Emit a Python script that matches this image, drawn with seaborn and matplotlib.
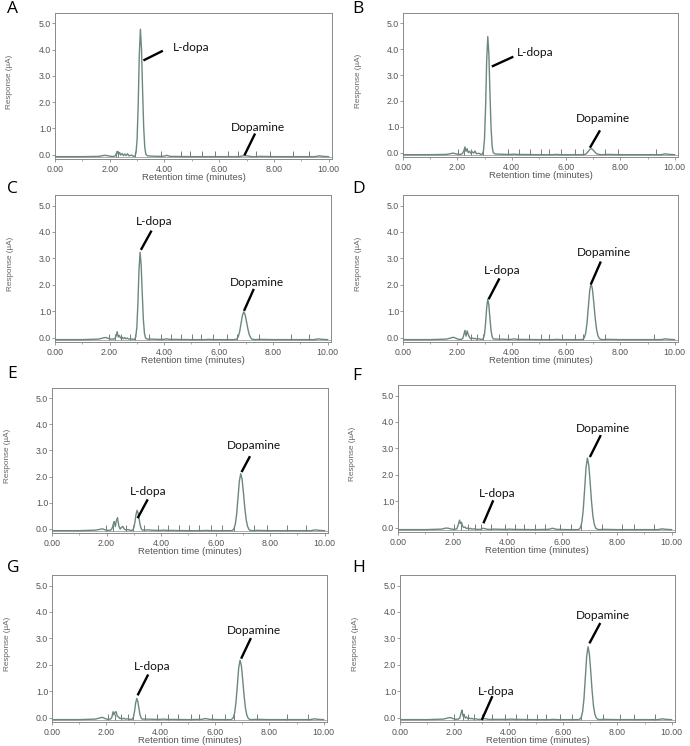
import matplotlib
matplotlib.use("Agg")
import matplotlib.pyplot as plt
import seaborn as sns
from matplotlib import font_manager

# retention time grid (minutes), shared by all eight chromatograms
retention_time = [
    0.0, 1.0, 1.6, 1.75, 1.85, 1.95, 2.05, 2.15, 2.2, 2.25, 2.28, 2.32, 2.36, 2.4, 2.45, 2.5, 2.55, 2.6, 2.65, 2.7, 2.8, 2.87,
    2.92, 2.96, 3.00, 3.04, 3.08, 3.12, 3.16, 3.20, 3.24, 3.28, 3.32, 3.38,
    3.5, 3.8, 4.0, 4.08, 4.2, 5.0, 5.5, 5.65, 5.8, 6.2, 6.5,
    6.57, 6.62, 6.67, 6.72, 6.77, 6.82, 6.87, 6.92, 6.97, 7.02, 7.07, 7.12, 7.17, 7.22, 7.27, 7.35,
    7.5, 8.0, 9.0, 9.5, 9.65, 9.8, 10.0]

# detector response (uA)
response_A = [
    -0.08, -0.08, -0.07, -0.04, -0.03, -0.05, -0.07, -0.07, -0.05, 0.05, 0.12, 0.0, 0.08, -0.02, 0.04, -0.04, 0.02, -0.04, 0.03, -0.05, -0.02, -0.07,
    -0.06, 0.07, 0.58, 1.91, 3.81, 4.78, 4.05, 2.45, 1.04, 0.27, 0.01, -0.05,
    -0.06, -0.07, -0.06, -0.03, -0.07, -0.08, -0.08, -0.08, -0.08, -0.08, -0.08,
    -0.08, -0.08, -0.08, -0.08, -0.07, -0.06, -0.05, -0.04, -0.05, -0.05, -0.06, -0.07, -0.08, -0.08, -0.08, -0.08,
    -0.07, -0.08, -0.08, -0.08, -0.05, -0.07, -0.08]
response_B = [
    -0.08, -0.08, -0.07, -0.04, -0.02, -0.05, -0.07, -0.06, -0.02, 0.10, 0.22, 0.05, 0.15, 0.0, 0.05, -0.03, 0.03, -0.02, 0.06, -0.04, -0.03, -0.07,
    -0.06, 0.06, 0.54, 1.79, 3.58, 4.49, 3.81, 2.30, 0.97, 0.25, 0.0, -0.05,
    -0.06, -0.07, -0.07, -0.06, -0.07, -0.08, -0.08, -0.07, -0.08, -0.08, -0.08,
    -0.08, -0.08, -0.07, -0.06, -0.01, 0.05, 0.12, 0.15, 0.13, 0.07, 0.01, -0.04, -0.06, -0.07, -0.08, -0.08,
    -0.07, -0.08, -0.08, -0.08, -0.05, -0.07, -0.08]
response_C = [
    -0.08, -0.08, -0.06, -0.02, 0.0, -0.03, -0.06, -0.06, -0.03, 0.08, 0.22, 0.02, 0.08, -0.02, 0.02, -0.05, 0.0, -0.05, -0.02, -0.06, -0.05, -0.07,
    -0.07, 0.02, 0.37, 1.28, 2.57, 3.23, 2.73, 1.64, 0.68, 0.16, -0.02, -0.06,
    -0.06, -0.07, -0.07, -0.05, -0.07, -0.08, -0.08, -0.07, -0.08, -0.08, -0.08,
    -0.08, -0.07, -0.05, 0.03, 0.22, 0.52, 0.83, 0.97, 0.87, 0.61, 0.34, 0.12, 0.0, -0.06, -0.07, -0.08,
    -0.07, -0.08, -0.08, -0.08, -0.05, -0.07, -0.08]
response_D = [
    -0.08, -0.08, -0.06, -0.02, 0.01, -0.03, -0.07, -0.07, -0.03, 0.15, 0.27, 0.05, 0.25, 0.12, 0.0, -0.05, -0.02, -0.05, -0.03, -0.06, -0.05, -0.07,
    -0.07, -0.03, 0.13, 0.55, 1.14, 1.45, 1.22, 0.72, 0.27, 0.03, -0.05, -0.06,
    -0.06, -0.07, -0.07, -0.05, -0.07, -0.08, -0.08, -0.07, -0.08, -0.08, -0.08,
    -0.08, -0.07, -0.01, 0.15, 0.53, 1.15, 1.77, 2.05, 1.84, 1.33, 0.76, 0.33, 0.08, -0.03, -0.07, -0.08,
    -0.07, -0.08, -0.08, -0.08, -0.05, -0.07, -0.08]
response_E = [
    -0.08, -0.08, -0.06, -0.03, -0.01, -0.05, -0.07, -0.06, 0.0, 0.18, 0.27, 0.08, 0.30, 0.42, 0.10, -0.02, 0.05, 0.08, -0.02, -0.05, -0.04, -0.07,
    -0.07, -0.06, 0.03, 0.24, 0.54, 0.70, 0.58, 0.33, 0.10, -0.02, -0.06, -0.06,
    -0.05, -0.07, -0.07, -0.06, -0.07, -0.08, -0.08, -0.07, -0.08, -0.08, -0.08,
    -0.08, -0.07, -0.01, 0.16, 0.55, 1.18, 1.83, 2.11, 1.89, 1.37, 0.79, 0.34, 0.09, -0.03, -0.07, -0.08,
    -0.07, -0.08, -0.08, -0.08, -0.05, -0.07, -0.08]
response_F = [
    -0.08, -0.08, -0.06, -0.02, -0.03, -0.06, -0.07, -0.05, 0.10, 0.28, 0.15, 0.20, 0.05, 0.0, 0.02, -0.04, -0.02, -0.05, -0.03, -0.06, -0.05, -0.07,
    -0.07, -0.07, -0.07, -0.06, -0.04, -0.03, -0.04, -0.05, -0.06, -0.07, -0.07, -0.07,
    -0.06, -0.07, -0.07, -0.06, -0.07, -0.08, -0.07, -0.03, -0.07, -0.08, -0.08,
    -0.08, -0.06, 0.0, 0.22, 0.70, 1.48, 2.28, 2.63, 2.36, 1.71, 0.99, 0.44, 0.13, -0.02, -0.06, -0.08,
    -0.07, -0.08, -0.08, -0.08, -0.05, -0.07, -0.08]
response_G = [
    -0.08, -0.08, -0.06, -0.02, 0.01, -0.04, -0.07, -0.06, 0.0, 0.22, 0.10, 0.20, 0.22, 0.05, 0.02, -0.04, -0.02, -0.05, -0.03, -0.06, -0.05, -0.07,
    -0.07, -0.06, 0.03, 0.25, 0.56, 0.72, 0.60, 0.34, 0.10, -0.02, -0.06, -0.06,
    -0.06, -0.07, -0.07, -0.06, -0.07, -0.08, -0.07, -0.04, -0.07, -0.08, -0.08,
    -0.08, -0.06, -0.01, 0.17, 0.57, 1.21, 1.88, 2.17, 1.95, 1.41, 0.81, 0.35, 0.09, -0.03, -0.07, -0.08,
    -0.07, -0.08, -0.08, -0.08, -0.05, -0.07, -0.08]
response_H = [
    -0.08, -0.08, -0.06, -0.02, 0.0, -0.04, -0.07, -0.06, -0.02, 0.18, 0.28, 0.05, 0.12, -0.02, 0.02, -0.05, -0.02, -0.05, -0.03, -0.06, -0.05, -0.07,
    -0.07, -0.07, -0.07, -0.06, -0.05, -0.04, -0.05, -0.06, -0.07, -0.07, -0.07, -0.07,
    -0.07, -0.07, -0.07, -0.06, -0.07, -0.08, -0.08, -0.07, -0.08, -0.08, -0.08,
    -0.08, -0.06, 0.01, 0.22, 0.71, 1.51, 2.32, 2.68, 2.40, 1.74, 1.01, 0.44, 0.13, -0.01, -0.06, -0.08,
    -0.07, -0.08, -0.08, -0.08, -0.05, -0.07, -0.08]

# integration event marks (minutes)
events_A = [2.23, 2.31, 2.94, 3.87, 4.61, 4.95, 5.36, 5.85, 6.31, 6.70, 7.35, 7.87, 8.69, 9.28]
events_B = [2.03, 2.25, 2.51, 2.94, 3.86, 4.28, 4.68, 5.06, 5.37, 5.82, 6.34, 6.64, 7.43, 7.91, 9.31]
events_C = [1.99, 2.20, 2.42, 2.76, 2.94, 3.43, 3.88, 4.25, 4.61, 5.04, 5.37, 5.81, 6.32, 6.66, 7.48, 8.64, 9.31]
events_D = [2.52, 2.74, 2.94, 3.55, 3.85, 4.24, 4.64, 5.07, 5.37, 5.85, 6.33, 6.63, 7.42, 9.25]
events_E = [1.98, 2.23, 2.71, 2.98, 3.38, 3.87, 4.24, 4.64, 5.03, 5.40, 5.82, 6.25, 6.68, 7.41, 7.90, 8.63, 9.30]
events_F = [2.04, 2.31, 2.56, 2.80, 3.02, 3.39, 3.90, 4.26, 4.61, 5.00, 5.36, 5.92, 6.31, 6.68, 7.47, 8.20, 8.63, 9.36]
events_G = [2.05, 2.30, 2.54, 2.79, 2.97, 3.42, 3.88, 4.27, 4.65, 5.10, 5.41, 5.90, 6.38, 6.69, 7.54, 8.64, 9.43]
events_H = [2.00, 2.31, 2.51, 2.73, 3.00, 3.40, 3.87, 4.28, 4.69, 5.05, 5.39, 5.88, 6.33, 6.66, 7.47, 8.10, 8.61, 9.38]

panel_names = ["A", "B", "C", "D", "E", "F", "G", "H"]
responses = [response_A, response_B, response_C, response_D, response_E, response_F, response_G, response_H]
events = [events_A, events_B, events_C, events_D, events_E, events_F, events_G, events_H]
x_ticks = [0, 2, 4, 6, 8, 10]
y_ticks = [0, 1, 2, 3, 4, 5]

# --- layout (pixels in a 690x746 figure) ---
W, H = 690, 746
axes_px = {  # left, right, top, bottom
    "A": (55, 332, 13, 159), "B": (403, 678, 13, 157),
    "C": (55, 331, 195, 342), "D": (403, 678, 195, 342),
    "E": (52, 328, 388, 533), "F": (398, 675, 385, 532),
    "G": (52, 327, 575, 722), "H": (400, 675, 575, 722),
}
letter_px = {"A": (7, 1), "B": (352, 1), "C": (7, 181), "D": (352, 181),
             "E": (7, 366), "F": (352, 368), "G": (7, 560), "H": (352, 560)}
# label callouts: (line tip, line end, text centre) in data coords
callouts = {
    "A": [("L-dopa", (3.23, 3.59), (3.94, 3.96), (4.96, 4.09)), ("Dopamine", (6.92, -0.03), (7.31, 0.80), (7.41, 1.05))],
    "B": [("L-dopa", (3.27, 3.33), (4.06, 3.71), (4.88, 3.86)), ("Dopamine", (6.88, 0.19), (7.25, 0.86), (7.37, 1.30))],
    "C": [("L-dopa", (3.15, 3.32), (3.54, 4.05), (3.64, 4.39)), ("Dopamine", (6.93, 1.01), (7.29, 1.84), (7.39, 2.09))],
    "D": [("L-dopa", (3.15, 1.45), (3.55, 2.24), (3.65, 2.53)), ("Dopamine", (6.91, 2.01), (7.28, 2.88), (7.39, 3.21))],
    "E": [("L-dopa", (3.14, 0.40), (3.51, 1.12), (3.51, 1.42)), ("Dopamine", (6.95, 2.17), (7.26, 2.78), (7.41, 3.19))],
    "F": [("L-dopa", (3.12, 0.16), (3.48, 1.03), (3.61, 1.27)), ("Dopamine", (7.01, 2.67), (7.41, 3.50), (7.47, 3.76))],
    "G": [("L-dopa", (3.15, 0.84), (3.54, 1.63), (3.68, 1.93)), ("Dopamine", (6.96, 2.23), (7.32, 3.01), (7.42, 3.31))],
    "H": [("L-dopa", (3.01, -0.09), (3.40, 0.81), (3.53, 1.00)), ("Dopamine", (6.97, 2.81), (7.37, 3.58), (7.45, 3.88))],
}

trace_color = "#6b8880"
frame_color = "#8a8a8a"
tick_color = "#555555"

sns.set_style("ticks")
plt.rcParams["font.family"] = ["Liberation Sans", "DejaVu Sans"]

narrow = "Liberation Sans"
try:
    font_manager.findfont("Liberation Sans Narrow", fallback_to_default=False)
    narrow = "Liberation Sans Narrow"
except Exception:
    pass

fig = plt.figure(figsize=(W / 100, H / 100), dpi=100)

for name, resp, ev in zip(panel_names, responses, events):
    l, r, t, b = axes_px[name]
    ax = fig.add_axes([l / W, 1 - b / H, (r - l) / W, (b - t) / H])

    ax.axhline(-0.08, color="#a0a0a0", lw=0.6, zorder=1)
    ax.vlines(ev, -0.08, 0.15, color="#7a7a7a", lw=0.7, zorder=2)
    sns.lineplot(x=retention_time, y=resp, ax=ax, color=trace_color, lw=1.0, zorder=3)

    for label, tip, end, txt in callouts[name]:
        ax.plot([tip[0], end[0]], [tip[1], end[1]], color="black", lw=1.7, solid_capstyle="butt", zorder=4)
        ax.text(txt[0], txt[1], label, ha="center", va="center", fontsize=8.6,
                family=["Lato", "DejaVu Sans"], color="#111111")

    ax.set_xlim(0, 10.12)
    ax.set_ylim(-0.17, 5.4)
    ax.set_xticks(x_ticks)
    ax.set_xticklabels([f"{v:.2f}" for v in x_ticks])
    ax.set_xticks([1, 3, 5, 7, 9], minor=True)
    ax.set_yticks(y_ticks)
    ax.set_yticklabels([f"{v:.1f}" for v in y_ticks])
    ax.tick_params(axis="both", which="major", length=2.5, width=0.6, color=frame_color,
                   labelsize=6.3, labelcolor=tick_color)
    ax.tick_params(axis="x", which="minor", length=1.5, width=0.5, color=frame_color)
    ax.tick_params(axis="y", which="major", pad=0.3)
    ax.tick_params(axis="x", which="major", pad=1.5)
    for sp in ax.spines.values():
        sp.set_color(frame_color)
        sp.set_linewidth(0.7)

    ax.set_xlabel("Retention time (minutes)", fontsize=6.8, color=tick_color)
    ax.xaxis.set_label_coords(0.5, -0.095)
    ax.set_ylabel("Response (\u00b5A)", fontsize=5.9, color="#666666", family=[narrow, "DejaVu Sans"])
    ax.yaxis.set_label_coords(-0.15, 0.53)

    lx, ly = letter_px[name]
    fig.text(lx / W, 1 - ly / H, name, ha="left", va="top", fontsize=12.5,
             family=["Open Sans", "DejaVu Sans"], color="black")

fig.savefig("out.png", dpi=100, facecolor="white")
